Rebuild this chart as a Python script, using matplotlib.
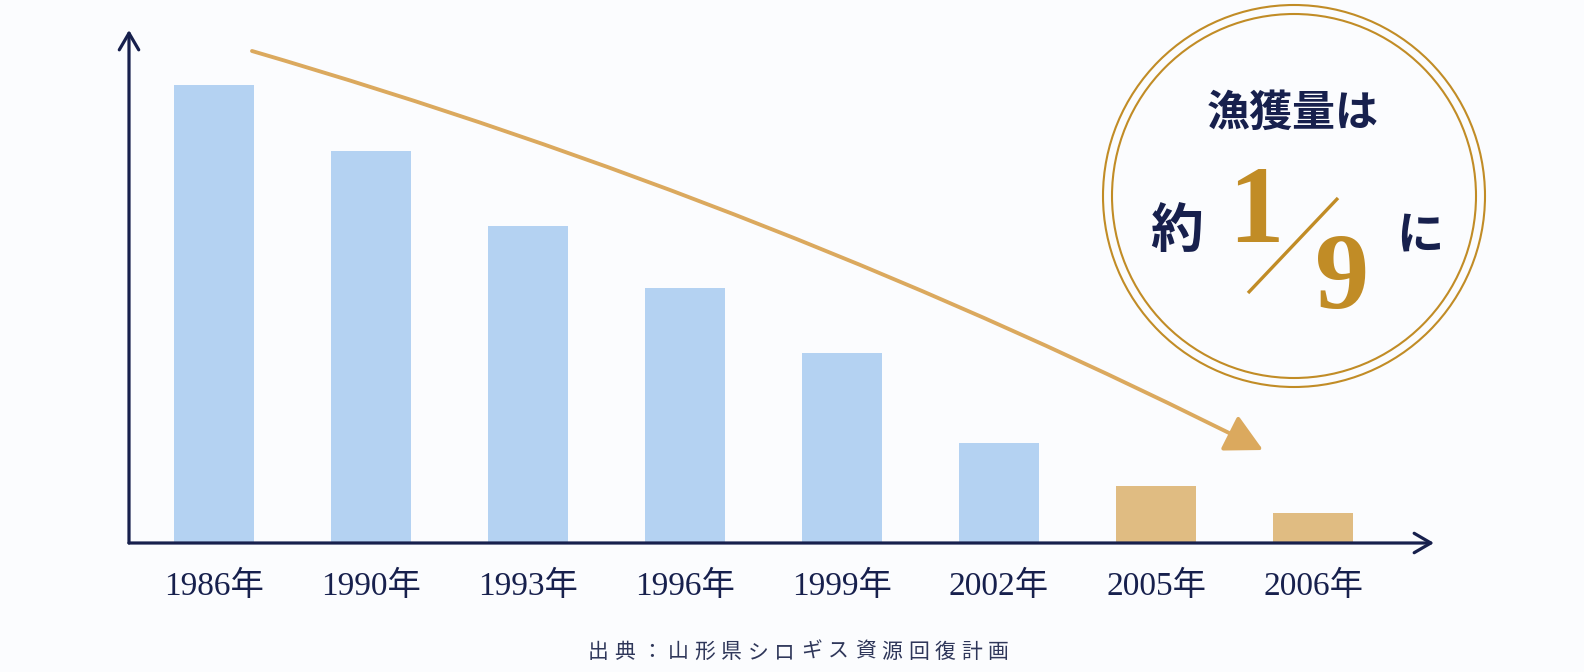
import numpy as np
import matplotlib.pyplot as plt
from matplotlib.patches import Circle, FancyArrowPatch

# データ（棒の高さは相対値・画像から読み取り）
years = ['1986年', '1990年', '1993年', '1996年', '1999年', '2002年', '2005年', '2006年']
catch = [458, 392, 317, 255, 190, 100, 57, 30]
highlight = [False, False, False, False, False, False, True, True]
source = '出典：山形県シロギス資源回復計画'

navy = '#17204d'
gold = '#c18c26'
arrow_col = '#dba95e'
blue = '#b4d2f2'
tan = '#e0bc82'
bg = '#fbfcfe'

W, H = 1584, 672
fig = plt.figure(figsize=(W / 100, H / 100), dpi=100, facecolor=bg)

# メインの棒グラフ
ax = fig.add_axes([129 / W, (H - 543) / H, (1434 - 129) / W, (543 - 30) / H])
ax.set_facecolor('none')
x = np.arange(len(years))
colors = [tan if h else blue for h in highlight]
ax.bar(x, catch, width=0.51, color=colors, zorder=1)
ax.set_xlim(-0.54, 7.77)
ax.set_ylim(0, 513)
for s in ax.spines.values():
    s.set_visible(False)
ax.set_yticks([])
ax.set_xticks(x)
ax.set_xticklabels(years, family=['Liberation Serif', 'Noto Sans CJK JP'], fontsize=24, color=navy)
ax.tick_params(axis='x', length=0, pad=20)

# 軸の矢印
for end in [(0, 1), (1, 0)]:
    ax.annotate('', xy=end, xytext=(0, 0), xycoords='axes fraction', textcoords='axes fraction',
                arrowprops=dict(arrowstyle='->,head_length=0.6,head_width=0.35', color=navy, lw=2.3,
                                shrinkA=0, shrinkB=0, mutation_scale=20), annotation_clip=False, zorder=3)

# 装飾用のオーバーレイ（ピクセル座標）
ov = fig.add_axes([0, 0, 1, 1])
ov.set_xlim(0, W)
ov.set_ylim(H, 0)
ov.axis('off')
ov.set_facecolor('none')

# 下降トレンドの矢印
arr = FancyArrowPatch((252, 51), (1263, 450), connectionstyle='arc3,rad=-0.046',
                      arrowstyle='-|>,head_length=23,head_width=12', mutation_scale=1,
                      color=arrow_col, lw=2.8, shrinkA=0, shrinkB=0)
ov.add_patch(arr)

# 二重円
cx, cy = 1294, 196
ov.add_patch(Circle((cx, cy), 191, fill=False, ec=gold, lw=1.5))
ov.add_patch(Circle((cx, cy), 182, fill=False, ec=gold, lw=1.5))

ov.text(1293, 113, '漁獲量は', ha='center', va='center', fontsize=31, fontweight='bold',
        color=navy, family='Noto Sans CJK JP')
ov.text(1177, 232, '約', ha='center', va='center', fontsize=38, fontweight='bold',
        color=navy, family='Noto Sans CJK JP')
ov.text(1420, 236, 'に', ha='center', va='center', fontsize=34, fontweight='bold',
        color=navy, family='Noto Sans CJK JP')
ov.text(1256, 242, '1', ha='center', va='baseline', fontsize=80, fontweight='bold',
        color=gold, family='Liberation Serif')
ov.text(1342, 308, '9', ha='center', va='baseline', fontsize=78, fontweight='bold',
        color=gold, family='Liberation Serif')
ov.plot([1248, 1338], [293, 198], color=gold, lw=2.4, solid_capstyle='butt')

# 出典
x0, step = 598, 26.7
for i, ch in enumerate(source):
    ov.text(x0 + i * step, 652, ch, ha='center', va='center', fontsize=15,
            color='#2f375a', family='Noto Sans CJK JP')

plt.savefig('out.png', dpi=100, facecolor=bg)
